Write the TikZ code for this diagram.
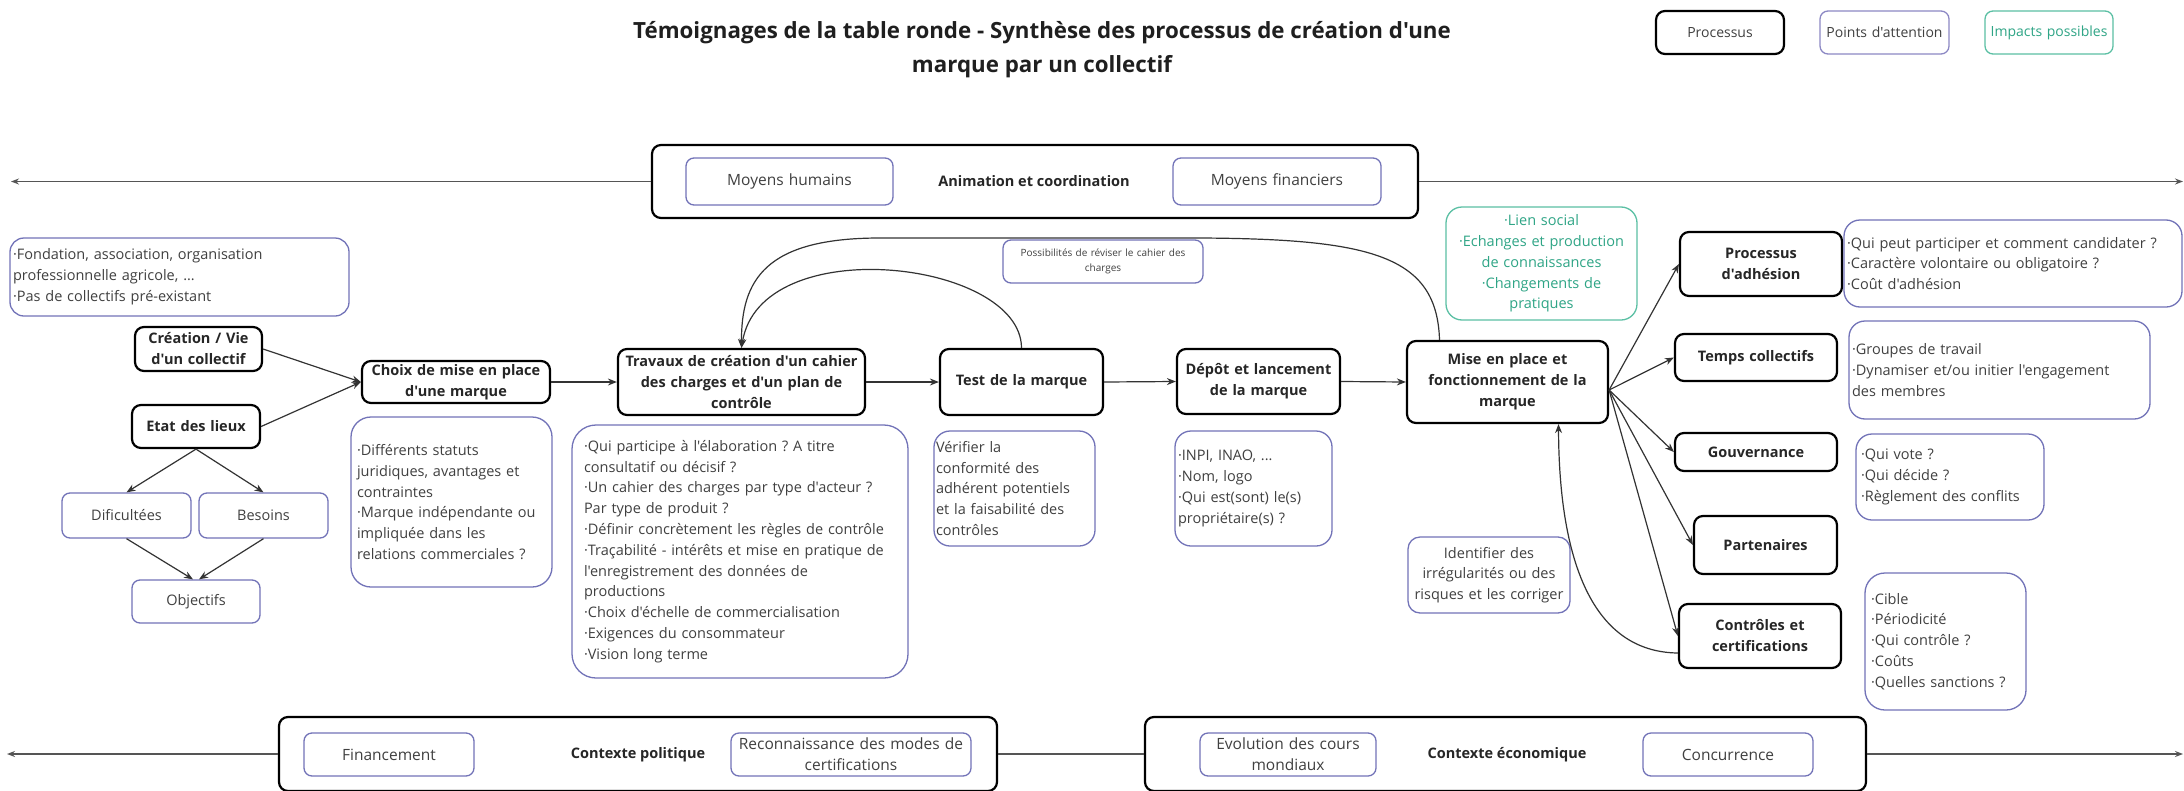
\documentclass[tikz,border=0pt]{standalone}
\usepackage{fontspec}
\setmainfont{Open Sans}[Ligatures=TeXOff]
\usetikzlibrary{arrows.meta}
\frenchspacing
\definecolor{attcol}{HTML}{7273B8}
\definecolor{legatt}{HTML}{8C88C4}
\definecolor{impcol}{HTML}{5BC0A4}
\definecolor{imptxt}{HTML}{2FA586}
\definecolor{txtcol}{HTML}{404040}
\definecolor{arrcol}{HTML}{333333}
\definecolor{barcol}{HTML}{555555}
% [pad]{style}{name}{x1}{y1}{x2}{y2}{text}
\newcommand\placebox[8][5]{%
  \pgfmathsetmacro\pbw{#6-#4}%
  \pgfmathsetmacro\pbh{#7-#5}%
  \pgfmathsetmacro\pbx{(#4+#6)/2}%
  \pgfmathsetmacro\pby{(#5+#7)/2}%
  \pgfmathsetmacro\pbt{#6-#4-2*#1}%
  \node[#2, inner xsep=#1pt, minimum width=\pbw pt, minimum height=\pbh pt, text width=\pbt pt] (#3) at (\pbx,\pby) {#8};%
}
\tikzset{
  proc/.style={draw=black, line width=2.2pt, rounded corners=9pt, fill=white, align=center, inner ysep=0pt, font=\fontsize{14.5}{21}\selectfont\bfseries, text=black!85},
  attbox/.style={draw=attcol, line width=1.3pt, rounded corners=14pt, fill=white, align=left, inner ysep=0pt, font=\fontsize{14.5}{20.8}\selectfont, text=txtcol},
  attc/.style={attbox, align=center, rounded corners=8pt},
  legtext/.style={font=\fontsize{14}{18}\selectfont},
  smallatt/.style={attc, font=\fontsize{10}{15}\selectfont},
  barin/.style={attbox, align=center, rounded corners=8pt, font=\fontsize{15.5}{21}\selectfont},
  impbox/.style={attbox, draw=impcol, text=imptxt, align=center},
  arr/.style={-{Stealth[length=9pt,width=7pt]}, line width=1.2pt, draw=arrcol},
  barline/.style={-{Stealth[length=8pt,width=6pt]}, line width=1.6pt, draw=barcol},
  bartitle/.style={font=\fontsize{14.5}{20}\selectfont\bfseries, text=black!85, inner sep=0pt},
}
\begin{document}
\begin{tikzpicture}[x=1pt, y=-1pt]
\useasboundingbox[fill=white] (0,0) rectangle (2184,790);

% title
\node[align=center, font=\fontsize{22.3}{34}\selectfont\bfseries, text=black!88] (title) at (1042,50)
  {Témoignages de la table ronde - Synthèse des processus de création d'une\\marque par un collectif};

% legend
\placebox{proc, legtext, text=txtcol}{legP}{1656}{11}{1784}{54}{Processus}
\placebox[2]{attc, legtext, draw=legatt}{legA}{1820}{11}{1949}{54}{Points d'attention}
\placebox[2]{impbox, legtext, rounded corners=8pt}{legI}{1985}{11}{2113}{54}{Impacts possibles}

% top bar
\placebox{proc}{topbar}{652}{145}{1418}{218}{}
\placebox{barin}{mh}{686}{158}{893}{205}{Moyens humains}
\placebox{barin}{mf}{1173}{158}{1381}{205}{Moyens financiers}
\node[bartitle] (anim) at (1034,181.5) {Animation et coordination};
\coordinate (topL) at (11,181.5);
\coordinate (topR) at (2183,181.5);
\draw[barline] (topbar.west) -- (topL);
\draw[barline] (topbar.east) -- (topR);

% bottom bars
\placebox{proc}{polbar}{279}{717}{997}{791}{}
\placebox{barin}{fin}{304}{733}{474}{776}{Financement}
\node[bartitle] (polt) at (638,754.5) {Contexte politique};
\placebox{barin}{rec}{731}{733}{971}{776}{Reconnaissance des modes de\\certifications}
\placebox{proc}{ecobar}{1145}{717}{1866}{791}{}
\placebox{barin}{evo}{1200}{733}{1376}{776}{Evolution des cours\\mondiaux}
\node[bartitle] (ecot) at (1507,754.5) {Contexte économique};
\placebox{barin}{conc}{1643}{733}{1813}{776}{Concurrence}
\coordinate (botL) at (7,754);
\coordinate (botR) at (2183,754);
\draw[barline] (polbar.west) -- (botL);
\draw[line width=1.6pt, draw=barcol] (polbar.east) -- (ecobar.west);
\draw[barline] (ecobar.east) -- (botR);

% left part
\placebox[3]{attbox}{fond}{10}{238}{349}{316}{·Fondation, association, organisation\\professionnelle agricole, ...\\·Pas de collectifs pré-existant}
\placebox{proc}{crea}{135}{327}{262}{371}{Création / Vie\\d'un collectif}
\placebox{proc}{etat}{132}{405}{260}{448}{Etat des lieux}
\placebox{attc}{dif}{62}{493}{191}{538}{Dificultées}
\placebox{attc}{bes}{199}{493}{328}{538}{Besoins}
\placebox{attc}{obj}{132}{580}{260}{623}{Objectifs}
\placebox{proc}{choix}{362}{361}{550}{403}{Choix de mise en place\\d'une marque}
\placebox[6]{attbox, rounded corners=20pt}{choixA}{351}{417}{552}{587}{·Différents statuts\\juridiques, avantages et\\contraintes\\·Marque indépendante ou\\impliquée dans les\\relations commerciales ?}

% middle
\placebox{proc}{trav}{618}{349}{865}{415}{Travaux de création d'un cahier\\des charges et d'un plan de\\contrôle}
\placebox[12]{attbox, rounded corners=24pt}{travA}{572}{425}{908}{678}{·Qui participe à l'élaboration ? A titre\\consultatif ou décisif ?\\·Un cahier des charges par type d'acteur ?\\Par type de produit ?\\·Définir concrètement les règles de contrôle\\·Traçabilité - intérêts et mise en pratique de\\l'enregistrement des données de\\productions\\·Choix d'échelle de commercialisation\\·Exigences du consommateur\\·Vision long terme}
\placebox{proc}{test}{940}{349}{1103}{415}{Test de la marque}
\placebox[2]{attbox, rounded corners=16pt}{testA}{934}{431}{1095}{546}{Vérifier la\\conformité des\\adhérent potentiels\\et la faisabilité des\\contrôles}
\placebox{smallatt}{poss}{1003}{240}{1203}{283}{Possibilités de réviser le cahier des\\charges}
\placebox{proc}{depot}{1177}{349}{1340}{414}{Dépôt et lancement\\de la marque}
\placebox[3]{attbox, rounded corners=16pt}{depotA}{1175}{431}{1332}{546}{·INPI, INAO, ...\\·Nom, logo\\·Qui est(sont) le(s)\\propriétaire(s) ?}
\placebox{proc}{mise}{1407}{341}{1608}{423}{Mise en place et\\fonctionnement de la\\marque}
\placebox{impbox, rounded corners=16pt}{imp}{1446}{207}{1637}{320}{·Lien social\\·Echanges et production\\de connaissances\\·Changements de\\pratiques}
\placebox[2]{attc, rounded corners=12pt}{ident}{1408}{537}{1570}{613}{Identifier des\\irrégularités ou des\\risques et les corriger}

% right part
\placebox{proc}{pa}{1680}{232}{1842}{296}{Processus\\d'adhésion}
\placebox{proc}{tc}{1675}{334}{1837}{381}{Temps collectifs}
\placebox{proc}{gov}{1675}{433}{1837}{471}{Gouvernance}
\placebox{proc}{part}{1694}{516}{1837}{574}{Partenaires}
\placebox{proc}{ctrl}{1679}{604}{1841}{668}{Contrôles et\\certifications}
\placebox[3]{attbox, rounded corners=16pt}{paA}{1844}{220}{2182}{307}{·Qui peut participer et comment candidater ?\\·Caractère volontaire ou obligatoire ?\\·Coût d'adhésion}
\placebox[3]{attbox, rounded corners=16pt}{tcA}{1849}{321}{2150}{419}{·Groupes de travail\\·Dynamiser et/ou initier l'engagement\\des membres}
\placebox[5]{attbox, rounded corners=16pt}{govA}{1856}{434}{2044}{520}{·Qui vote ?\\·Qui décide ?\\·Règlement des conflits}
\placebox[6]{attbox, rounded corners=20pt}{ctrlA}{1865}{573}{2026}{710}{·Cible\\·Périodicité\\·Qui contrôle ?\\·Coûts\\·Quelles sanctions ?}

% connectors
\draw[arr] (crea.east) -- (choix.west);
\draw[arr] (etat.east) -- (choix.west);
\draw[arr] (etat.south) -- (dif.north);
\draw[arr] (etat.south) -- (bes.north);
\draw[arr] (dif.south) -- ([xshift=-3pt]obj.north);
\draw[arr] (bes.south) -- ([xshift=3pt]obj.north);
\draw[arr] (choix.east) -- (trav.west);
\draw[arr] (trav.east) -- (test.west);
\draw[arr] (test.east) -- (depot.west);
\draw[arr] (depot.east) -- (mise.west);
\draw[arr] (test.north) .. controls (1021,260) and (760,230) .. (trav.north);
\draw[arr] ([xshift=-68pt]mise.north) .. controls (1437,255) and (1370,239) .. (1200,238) -- (880,238) .. controls (765,238) and (741,280) .. (trav.north);
\draw[arr] ([yshift=-8pt]mise.east) -- (pa.west);
\draw[arr] ([yshift=-8pt]mise.east) -- (tc.west);
\draw[arr] ([yshift=-8pt]mise.east) -- (gov.west);
\draw[arr] ([yshift=-8pt]mise.east) -- (part.west);
\draw[arr] ([yshift=-8pt]mise.east) -- (ctrl.west);
\draw[arr] ([yshift=-17pt]ctrl.west) .. controls (1592,652) and (1559,560) .. ([xshift=51pt]mise.south);
\end{tikzpicture}
\end{document}
